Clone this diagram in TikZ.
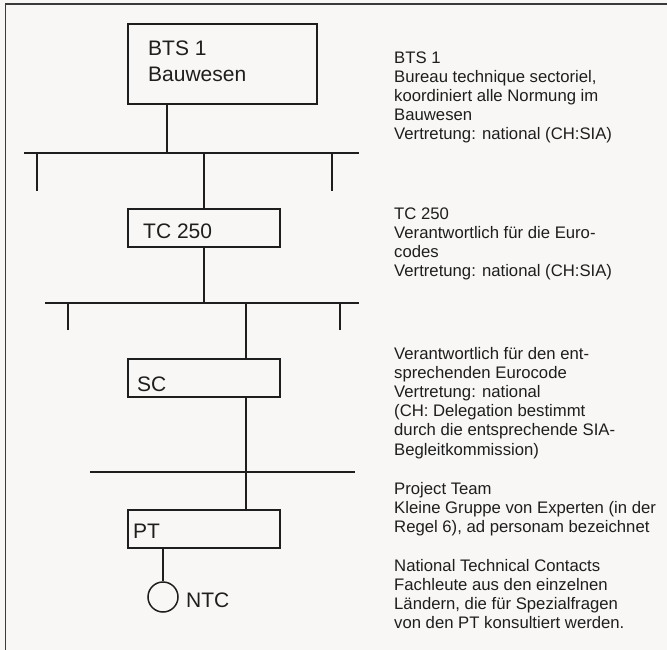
\documentclass[tikz,border=0pt]{standalone}
\usepackage{fontspec}
\setmainfont{Liberation Sans}
\definecolor{bg}{HTML}{F8F7F5}
\definecolor{ink}{HTML}{1E1E1E}
\definecolor{framec}{HTML}{3A3A3A}
\begin{document}
\begin{tikzpicture}[x=1pt,y=-1pt,
  box/.style={draw=ink,line width=1.5pt,inner sep=0pt,minimum width=152pt,minimum height=38pt},
  lbl/.style={inner sep=0pt,anchor=base west,font=\fontsize{21}{26}\selectfont,text=ink},
  desc/.style={inner sep=0pt,anchor=base west,align=left,font=\fontsize{16.7}{19.2}\selectfont,text=ink},
  wire/.style={draw=ink,line width=1.5pt},
  thinwire/.style={draw=ink,line width=1.1pt}]
\fill[bg] (0,0) rectangle (667,650);
\useasboundingbox (0,0) rectangle (667,650);
\draw[framec,line width=1.6pt] (667,4) -- (5.5,4) -- (5.5,650);

% boxes
\node[box,minimum width=189pt,minimum height=80pt] (bts) at (222.5,64) {};
\node[box] (tc) at (204,228) {};
\node[box] (sc) at (204,378) {};
\node[box] (pt) at (204,529) {};
\node[draw=ink,line width=1.5pt,circle,minimum size=30pt,inner sep=0pt] (ntc) at (163,597) {};

% box labels
\node[lbl] (btsl1) at (148,56) {BTS 1};
\node[lbl] (btsl2) at (148,82) {Bauwesen};
\node[lbl] (tcl) at (143,238) {TC 250};
\node[lbl] (scl) at (137,391) {SC};
\node[lbl] (ptl) at (133,538) {PT};
\node[lbl] (ntcl) at (186,607) {NTC};

% bus coordinates
\coordinate (b1l) at (24,153);
\coordinate (b1r) at (359,153);
\coordinate (j1) at (167,153);
\coordinate (j2) at (204,153);
\coordinate (t1a) at (37,153);
\coordinate (t1ae) at (37,191);
\coordinate (t1b) at (332,153);
\coordinate (t1be) at (332,191);

\coordinate (b2l) at (45,303);
\coordinate (b2r) at (359,303);
\coordinate (j3) at (204,303);
\coordinate (j4) at (246,303);
\coordinate (t2a) at (68,303);
\coordinate (t2ae) at (68,330);
\coordinate (t2b) at (340,303);
\coordinate (t2be) at (340,330);

\coordinate (b3l) at (90,472);
\coordinate (b3r) at (355,472);
\coordinate (j5) at (246,472);
\coordinate (j6) at (163,560);

% connectors
\draw[wire] (bts.south -| j1) -- (j1);
\draw[wire] (b1l) -- (b1r);
\draw[wire] (t1a) -- (t1ae);
\draw[wire] (t1b) -- (t1be);
\draw[wire] (j2) -- (tc.north);
\draw[wire] (tc.south) -- (j3);
\draw[wire] (b2l) -- (b2r);
\draw[wire] (t2a) -- (t2ae);
\draw[wire] (t2b) -- (t2be);
\draw[wire] (j4) -- (sc.north -| j4);
\draw[wire] (sc.south -| j4) -- (pt.north -| j4);
\draw[thinwire] (b3l) -- (b3r);
\draw[wire] (pt.south -| j6) -- (ntc.north);

% descriptions (anchor = baseline of the last line)
\node[desc] (d1) at (394,139.8) {BTS 1\\Bureau technique sectoriel,\\koordiniert alle Normung im\\Bauwesen\\Vertretung: national (CH:SIA)};
\node[desc] (d2) at (394,276.6) {TC 250\\Verantwortlich für die Euro-\\codes\\Vertretung: national (CH:SIA)};
\node[desc] (d3) at (394,455) {Verantwortlich für den ent-\\sprechenden Eurocode\\Vertretung: national\\(CH: Delegation bestimmt\\durch die entsprechende SIA-\\Begleitkommission)};
\node[desc] (d4) at (394,532.4) {Project Team\\Kleine Gruppe von Experten (in der\\Regel 6), ad personam bezeichnet};
\node[desc] (d5) at (394,628.6) {National Technical Contacts\\Fachleute aus den einzelnen\\Ländern, die für Spezialfragen\\von den PT konsultiert werden.};
\end{tikzpicture}
\end{document}
